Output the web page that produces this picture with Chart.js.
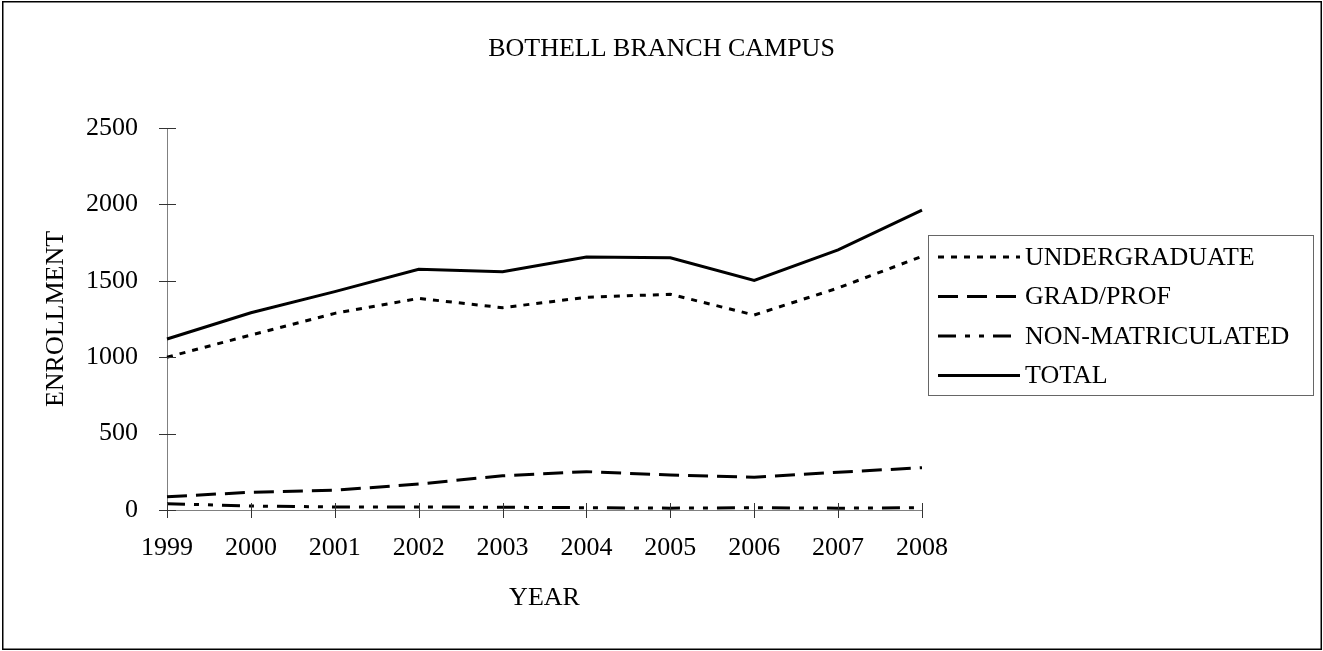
<!DOCTYPE html>
<html>
<head>
<meta charset="utf-8">
<script src="https://cdn.jsdelivr.net/npm/chart.js@4/dist/chart.umd.min.js"></script>
<style>
  html, body { margin: 0; padding: 0; background: #fff; }
  #wrap { width: 1323px; height: 651px; position: relative; }
</style>
</head>
<body>
<div id="wrap"><canvas id="enrollChart"></canvas></div>
<script>
// Data
const years = ["1999", "2000", "2001", "2002", "2003", "2004", "2005", "2006", "2007", "2008"];
const undergraduate = [1000, 1145, 1287, 1385, 1324, 1392, 1412, 1276, 1453, 1660];
const gradProf = [87, 116, 129, 170, 224, 251, 229, 214, 247, 277];
const nonMatriculated = [41, 26, 20, 20, 18, 15, 12, 15, 12, 15];
const total = [1119, 1291, 1429, 1575, 1560, 1656, 1651, 1503, 1702, 1963];
const yTicks = [0, 500, 1000, 1500, 2000, 2500];
const chartTitle = "BOTHELL BRANCH CAMPUS";

const FONT = "'Liberation Serif', 'Times New Roman', serif";

// Border round the picture, title, crossing tick marks, boxed legend
const decorations = {
  id: "decorations",
  afterDraw(chart) {
    const ctx = chart.ctx;
    const area = chart.chartArea;
    const xs = chart.scales.x;
    const ys = chart.scales.y;
    ctx.save();

    // outer frame
    ctx.strokeStyle = "#000";
    ctx.lineWidth = 1.5;
    ctx.setLineDash([]);
    ctx.strokeRect(2.75, 1.75, 1318.5, 647.5);

    // title, centred on the whole picture
    ctx.font = "26px " + FONT;
    ctx.fillStyle = "#000";
    ctx.textAlign = "center";
    ctx.textBaseline = "middle";
    ctx.fillText(chartTitle, chart.width / 2, 49);

    // tick marks crossing the axes
    ctx.strokeStyle = "#333";
    ctx.lineWidth = 1;
    ys.ticks.forEach((t, i) => {
      const y = Math.round(ys.getPixelForTick(i)) + 0.5;
      ctx.beginPath();
      ctx.moveTo(area.left - 8, y);
      ctx.lineTo(area.left + 9, y);
      ctx.stroke();
    });
    xs.ticks.forEach((t, i) => {
      const x = Math.round(xs.getPixelForTick(i)) + 0.5;
      ctx.beginPath();
      ctx.moveTo(x, area.bottom - 7);
      ctx.lineTo(x, area.bottom + 8);
      ctx.stroke();
    });

    // legend
    const boxL = area.right + 6;
    const boxT = 235;
    ctx.strokeStyle = "#666";
    ctx.lineWidth = 1;
    ctx.strokeRect(boxL + 0.5, boxT + 0.5, 385, 160);
    ctx.textAlign = "left";
    chart.data.datasets.forEach((ds, i) => {
      const y = boxT + 22 + i * 39.5;
      ctx.strokeStyle = "#000";
      ctx.lineWidth = ds.borderWidth;
      ctx.setLineDash(ds.borderDash || []);
      ctx.beginPath();
      ctx.moveTo(boxL + 10, y);
      ctx.lineTo(boxL + 92, y);
      ctx.stroke();
      ctx.setLineDash([]);
      ctx.fillText(ds.label, boxL + 97, y + 1);
    });
    ctx.restore();
  },
};

const ctx = document.getElementById("enrollChart");

new Chart(ctx, {
  type: "line",
  data: {
    labels: years,
    datasets: [
      {
        label: "UNDERGRADUATE",
        data: undergraduate,
        borderColor: "#000",
        borderWidth: 3,
        borderDash: [6, 7],
      },
      {
        label: "GRAD/PROF",
        data: gradProf,
        borderColor: "#000",
        borderWidth: 3,
        borderDash: [20, 9],
      },
      {
        label: "NON-MATRICULATED",
        data: nonMatriculated,
        borderColor: "#000",
        borderWidth: 3,
        borderDash: [18, 9, 5, 9, 5, 9],
      },
      {
        label: "TOTAL",
        data: total,
        borderColor: "#000",
        borderWidth: 3,
      },
    ],
  },
  options: {
    responsive: true,
    maintainAspectRatio: false,
    animation: false,
    devicePixelRatio: 1,
    elements: {
      point: { radius: 0, hoverRadius: 0 },
      line: { tension: 0, borderCapStyle: "butt" },
    },
    layout: { padding: { left: 10, right: 401, top: 128, bottom: 0 } },
    plugins: {
      legend: { display: false },
      tooltip: { enabled: false },
      title: { display: false },
    },
    scales: {
      x: {
        offset: false,
        grid: { display: false, drawTicks: false },
        border: { display: true, color: "#808080", width: 1 },
        ticks: {
          color: "#000",
          font: { family: FONT, size: 26 },
          padding: 23,
          maxRotation: 0,
        },
        title: {
          display: true,
          text: "YEAR",
          color: "#000",
          font: { family: FONT, size: 26 },
          padding: { top: 0, bottom: 37 },
        },
        afterFit: (scale) => {
          scale.height = 141;
        },
      },
      y: {
        min: 0,
        max: 2500,
        afterBuildTicks: (scale) => {
          scale.ticks = yTicks.map((v) => ({ value: v }));
        },
        grid: { display: false, drawTicks: false },
        border: { display: true, color: "#808080", width: 1 },
        ticks: {
          color: "#000",
          font: { family: FONT, size: 26 },
          padding: 29,
          callback: (v) => String(v),
        },
        title: {
          display: true,
          text: "ENROLLMENT",
          color: "#000",
          font: { family: FONT, size: 26 },
          padding: { top: 31, bottom: 0 },
        },
        afterFit: (scale) => {
          scale.width = 157;
        },
      },
    },
  },
  plugins: [decorations],
});
</script>
</body>
</html>
